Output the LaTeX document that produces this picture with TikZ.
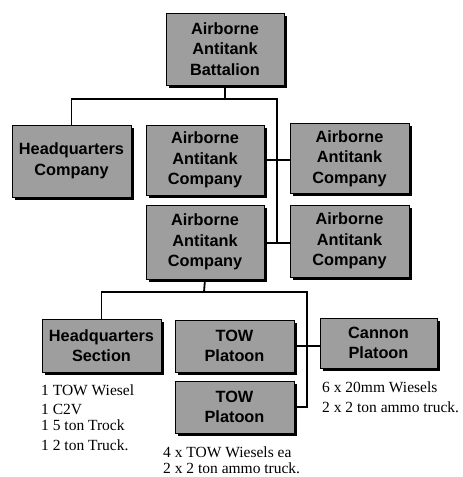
\documentclass[tikz,border=0pt]{standalone}
\usepackage{fontspec}
\setmainfont{Liberation Serif}
\newfontfamily\boxfont{Liberation Sans}
\usetikzlibrary{shadows}
\begin{document}
\begin{tikzpicture}[x=1pt,y=-1pt,
  unit/.style={draw=black, line width=0.8pt, fill=black!38, align=center,
    font=\boxfont\bfseries\fontsize{16.3}{20.5}\selectfont, inner sep=0pt,
    general shadow={fill=black, shadow xshift=2.5pt, shadow yshift=-2.5pt}},
  conn/.style={line width=1.8pt},
  note/.style={anchor=west, inner sep=0pt, font=\fontsize{15.5}{16}\selectfont}]
\useasboundingbox (0,0) rectangle (463,477);
% boxes
\node[unit, minimum width=118pt, minimum height=72pt] (top) at (225,49) {Airborne\\Antitank\\Battalion};
\node[unit, minimum width=119pt, minimum height=72pt] (hqc) at (71.5,161) {Headquarters\\Company};
\node[unit, minimum width=118pt, minimum height=70pt] (aac1) at (205,160) {Airborne\\Antitank\\Company};
\node[unit, minimum width=119pt, minimum height=70pt] (aacR1) at (349.5,158.5) {Airborne\\Antitank\\Company};
\node[unit, minimum width=118pt, minimum height=74pt] (aac2) at (205,242) {Airborne\\Antitank\\Company};
\node[unit, minimum width=119pt, minimum height=72pt] (aacR2) at (349.5,241) {Airborne\\Antitank\\Company};
\node[unit, minimum width=119pt, minimum height=53pt] (hqs) at (101.5,345.5) {Headquarters\\Section};
\node[unit, minimum width=119pt, minimum height=52pt] (tow1) at (234.5,346) {TOW\\Platoon};
\node[unit, minimum width=117pt, minimum height=50pt] (can) at (378.5,343) {Cannon\\Platoon};
\node[unit, minimum width=119pt, minimum height=52pt] (tow2) at (234.5,407) {TOW\\Platoon};
% bus coordinates
\coordinate (b1) at (225,99);
\coordinate (b1r) at (277,99);
\coordinate (b1d) at (277,243);
\coordinate (b2) at (204,292);
\coordinate (b2r) at (307,292);
% connectors
\draw[conn] (top.south) -- (b1);
\draw[conn] (hqc.north) |- (b1r) -- (b1d);
\draw[conn] (aac1.east) -- (aac1.east -| aacR1.west);
\draw[conn] (aac2.east |- b1d) -- (b1d -| aacR2.west);
\draw[conn] (aac2.south) -- (b2);
\draw[conn] (hqs.north) |- (b2r) |- (tow2.east);
\draw[conn] (tow1.east) -- (tow1.east -| can.west);
% notes
\node[note] (n1) at (41,390) {1 TOW Wiesel};
\node[note] (n2) at (41,409) {1 C2V};
\node[note] (n3) at (41,425) {1 5 ton Trock};
\node[note] (n4) at (41,445) {1 2 ton Truck.};
\node[note] (c1) at (322,387) {6 x 20mm Wiesels};
\node[note] (c2) at (322,407) {2 x 2 ton ammo truck.};
\node[note] (t1) at (163,452) {4 x TOW Wiesels ea};
\node[note] (t2) at (163,468) {2 x 2 ton ammo truck.};
\end{tikzpicture}
\end{document}
